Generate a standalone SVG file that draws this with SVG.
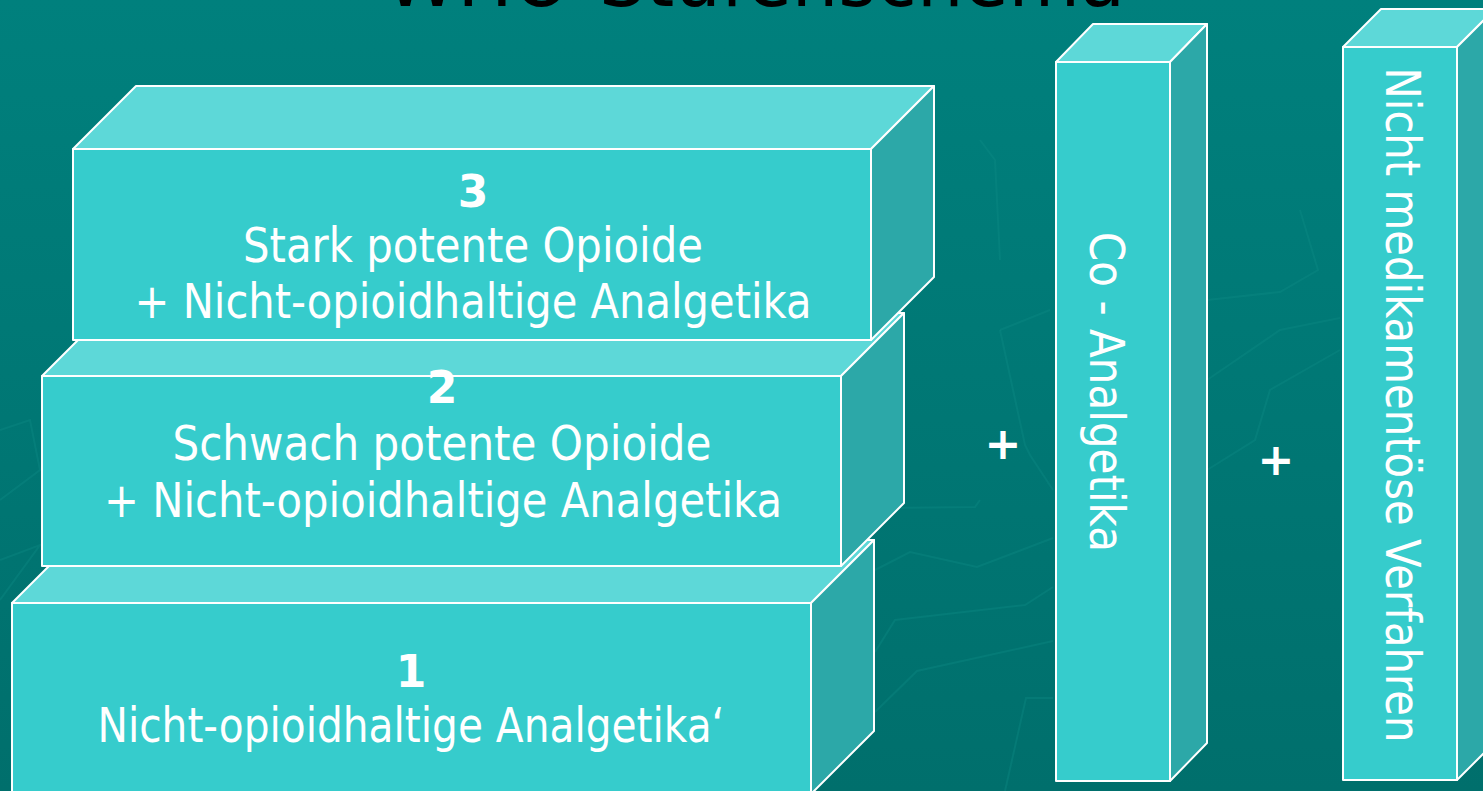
<svg xmlns="http://www.w3.org/2000/svg" width="1483" height="791" viewBox="0 0 1483 791">
<defs>
<linearGradient id="bg" x1="0" y1="0" x2="0" y2="1">
<stop offset="0" stop-color="#00807D"/>
<stop offset="1" stop-color="#006F6C"/>
</linearGradient>
<style>
.front{fill:#36CCCC;stroke:#FFFFFF;stroke-width:2;stroke-linejoin:round}
.top{fill:#5DD8D8;stroke:#FFFFFF;stroke-width:2;stroke-linejoin:round}
.side{fill:#2CA8A8;stroke:#FFFFFF;stroke-width:2;stroke-linejoin:round}
.deco{fill:none;stroke:#0E8B86;stroke-width:2;opacity:0.35}
.lbl{font-family:"DejaVu Sans","Liberation Sans",sans-serif;font-size:48px;fill:#FFFFFF}
.num{font-family:"DejaVu Sans","Liberation Sans",sans-serif;font-size:44px;font-weight:bold;fill:#FFFFFF}
.title{font-family:"DejaVu Sans","Liberation Sans",sans-serif;font-size:76px;fill:#000000}
</style>
</defs>
<rect x="0" y="0" width="1483" height="791" fill="url(#bg)"/>
<g id="background-lines">
<polyline class="deco" points="875,570 910,552 977,567 1053,538"/>
<polyline class="deco" points="875,652 895,620 1025,605 1053,587"/>
<polyline class="deco" points="875,712 917,671 1053,641"/>
<polyline class="deco" points="1005,791 1026,698 1053,698"/>
<polyline class="deco" points="885,508 975,507 980,500"/>
<polyline class="deco" points="1207,300 1280,292 1318,270 1300,210"/>
<polyline class="deco" points="1207,380 1280,330 1340,318"/>
<polyline class="deco" points="1207,470 1255,440 1270,390 1340,350"/>
<polyline class="deco" points="1000,330 1025,445 1030,455 1053,490"/>
<polyline class="deco" points="1000,330 1050,310"/>
<polyline class="deco" points="0,430 30,420 40,470 0,500"/>
<polyline class="deco" points="0,560 40,545 0,600"/>
<polyline class="deco" points="980,140 995,160 1000,260"/>
</g>
<text class="title" x="385" y="6" textLength="740" lengthAdjust="spacingAndGlyphs">WHO-Stufenschema</text>
<g id="step1">
<polygon class="top" points="12,603 75,540 874,540 811,603"/>
<polygon class="side" points="811,603 874,540 874,731 811,794"/>
<rect class="front" x="12" y="603" width="799" height="191"/>
<text class="num" x="411" y="687" text-anchor="middle">1</text>
<text class="lbl" x="411" y="742" text-anchor="middle" textLength="627" lengthAdjust="spacingAndGlyphs">Nicht-opioidhaltige Analgetika‘</text>
</g>
<g id="step2">
<polygon class="top" points="42,376 105,313 904,313 841,376"/>
<polygon class="side" points="841,376 904,313 904,503 841,566"/>
<rect class="front" x="42" y="376" width="799" height="190"/>
<text class="num" x="442" y="403" text-anchor="middle">2</text>
<text class="lbl" x="442" y="460" text-anchor="middle" textLength="539" lengthAdjust="spacingAndGlyphs">Schwach potente Opioide</text>
<text class="lbl" x="443" y="517" text-anchor="middle" textLength="678" lengthAdjust="spacingAndGlyphs">+ Nicht-opioidhaltige Analgetika</text>
</g>
<g id="step3">
<polygon class="top" points="73,149 136,86 934,86 871,149"/>
<polygon class="side" points="871,149 934,86 934,277 871,340"/>
<rect class="front" x="73" y="149" width="798" height="191"/>
<text class="num" x="473" y="207" text-anchor="middle">3</text>
<text class="lbl" x="473" y="262" text-anchor="middle" textLength="460" lengthAdjust="spacingAndGlyphs">Stark potente Opioide</text>
<text class="lbl" x="473" y="318" text-anchor="middle" textLength="677" lengthAdjust="spacingAndGlyphs">+ Nicht-opioidhaltige Analgetika</text>
</g>
<g id="plus1">
<text class="num" x="1003" y="459" text-anchor="middle">+</text>
</g>
<g id="co-analgetika">
<polygon class="top" points="1056,62 1093,24 1207,24 1170,62"/>
<polygon class="side" points="1170,62 1207,24 1207,743 1170,781"/>
<rect class="front" x="1056" y="62" width="114" height="719"/>
<text class="lbl" transform="translate(1090,392) rotate(90)" x="0" y="0" text-anchor="middle" textLength="320" lengthAdjust="spacingAndGlyphs">Co - Analgetika</text>
</g>
<g id="plus2">
<text class="num" x="1276" y="475" text-anchor="middle">+</text>
</g>
<g id="nicht-medikamentoes">
<polygon class="top" points="1343,47 1381,9 1495,9 1457,47"/>
<polygon class="side" points="1457,47 1495,9 1495,742 1457,780"/>
<rect class="front" x="1343" y="47" width="114" height="733"/>
<text class="lbl" transform="translate(1386,405) rotate(90)" x="0" y="0" text-anchor="middle" textLength="675" lengthAdjust="spacingAndGlyphs">Nicht medikamentöse Verfahren</text>
</g>
<g id="connectors"></g>
</svg>
